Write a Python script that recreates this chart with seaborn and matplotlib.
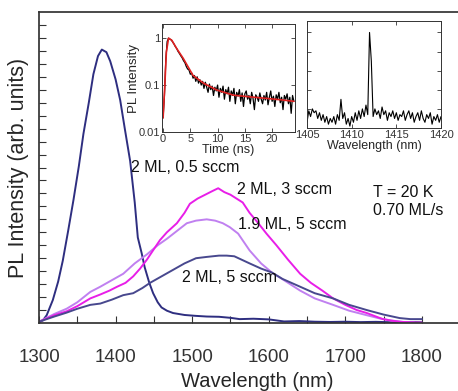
import matplotlib
matplotlib.use("Agg")
import matplotlib.pyplot as plt
import numpy as np
import pandas as pd
import seaborn as sns

# main PL spectra (wavelength in nm, intensity in arb. units)
wl_a = [1300, 1305, 1310, 1318, 1325, 1331, 1338, 1345, 1352, 1358, 1365, 1371, 1377, 1382,
        1388, 1393, 1400, 1406, 1412, 1419, 1425, 1429, 1434, 1438, 1444, 1449, 1455, 1460,
        1467, 1475, 1490, 1505, 1519, 1535, 1550, 1562, 1580, 1600, 1620, 1640, 1660, 1680,
        1700, 1720, 1740, 1760, 1780, 1800]
pl_a = [0.05, 0.2, 0.6, 1.77, 3.2, 4.8, 7.1, 9.5, 12.1, 14.6, 17.0, 19.2, 20.6, 21.1,
        20.9, 20.2, 18.8, 17.2, 15.0, 12.5, 9.3, 6.6, 5.4, 4.3, 3.1, 2.3, 1.6, 1.2,
        0.95, 0.77, 0.62, 0.55, 0.5, 0.48, 0.4, 0.3, 0.33, 0.28, 0.12, 0.15, 0.1, 0.08,
        0.1, 0.07, 0.09, 0.06, 0.08, 0.05]

wl_b = [1300, 1310, 1320, 1336, 1350, 1367, 1380, 1392, 1402, 1413, 1423, 1432, 1441, 1450,
        1458, 1467, 1480, 1490, 1497, 1507, 1517, 1527, 1534, 1542, 1550, 1558, 1566, 1575,
        1585, 1597, 1610, 1625, 1641, 1655, 1670, 1684, 1700, 1715, 1728, 1740, 1749, 1760,
        1771, 1785, 1800]
pl_b = [0.1, 0.35, 0.6, 0.9, 1.3, 1.9, 2.2, 2.5, 2.8, 3.1, 3.6, 4.2, 4.9, 5.7,
        6.4, 7.0, 7.7, 8.5, 9.2, 9.6, 9.9, 10.2, 10.4, 10.1, 9.9, 9.6, 9.3, 8.5,
        7.8, 6.9, 6.0, 4.9, 3.8, 3.1, 2.5, 1.9, 1.4, 1.0, 0.77, 0.5, 0.3, 0.18,
        0.1, 0.05, 0.03]

wl_c = [1300, 1310, 1320, 1336, 1350, 1367, 1380, 1395, 1410, 1425, 1441, 1455, 1467, 1480,
        1493, 1505, 1519, 1530, 1540, 1549, 1560, 1575, 1590, 1604, 1620, 1641, 1660, 1684,
        1705, 1728, 1745, 1760, 1775, 1790]
pl_c = [0.1, 0.4, 0.7, 1.1, 1.6, 2.4, 2.8, 3.3, 3.8, 4.6, 5.3, 6.0, 6.5, 7.1,
        7.7, 7.9, 8.0, 7.9, 7.7, 7.4, 6.9, 5.6, 4.6, 3.9, 3.3, 2.5, 1.9, 1.4,
        0.95, 0.6, 0.35, 0.2, 0.08, 0.03]

wl_d = [1300, 1310, 1320, 1336, 1350, 1367, 1380, 1395, 1410, 1423, 1435, 1445, 1460, 1475,
        1490, 1505, 1519, 1535, 1545, 1555, 1575, 1590, 1604, 1618, 1641, 1660, 1684, 1705,
        1728, 1750, 1771, 1785, 1800]
pl_d = [0.1, 0.3, 0.5, 0.8, 1.1, 1.4, 1.5, 1.8, 2.15, 2.3, 2.7, 3.1, 3.6, 4.1,
        4.6, 5.0, 5.1, 5.2, 5.2, 5.15, 4.6, 4.2, 3.9, 3.4, 2.8, 2.3, 1.9, 1.4,
        1.0, 0.65, 0.38, 0.3, 0.3]

labels = ["2 ML, 0.5 sccm", "2 ML, 3 sccm", "1.9 ML, 5 sccm", "2 ML, 5 sccm"]
colors = ["#2e2e80", "#e81ee8", "#c080f0", "#48488e"]

# inset 1: time-resolved PL
t_data = [i * 0.25 for i in range(97)]
pl_t = [0.02, 0.06, 0.35, 0.85, 1.0, 0.95, 0.92, 0.83, 0.75, 0.66, 0.6, 0.52, 0.47, 0.42,
        0.38, 0.33, 0.3, 0.25, 0.22, 0.21, 0.17, 0.18, 0.14, 0.16, 0.12, 0.15, 0.11, 0.13,
        0.1, 0.12, 0.085, 0.115, 0.09, 0.07, 0.105, 0.08, 0.095, 0.06, 0.09, 0.075, 0.1,
        0.055, 0.085, 0.07, 0.095, 0.05, 0.08, 0.065, 0.09, 0.045, 0.075, 0.06, 0.085,
        0.04, 0.07, 0.058, 0.08, 0.045, 0.068, 0.035, 0.065, 0.075, 0.05, 0.06, 0.04,
        0.07, 0.052, 0.03, 0.062, 0.055, 0.045, 0.068, 0.05, 0.04, 0.06, 0.048, 0.07,
        0.038, 0.055, 0.075, 0.045, 0.058, 0.035, 0.062, 0.05, 0.07, 0.042, 0.055, 0.03,
        0.06, 0.05, 0.065, 0.04, 0.055, 0.025, 0.06, 0.045]
t_fit = [0, 0.3, 0.6, 1.0, 1.6, 2.5, 3.7, 5.5, 7.4, 9.9, 12.9, 16, 19, 22, 24]
pl_fit = [0.02, 0.09, 0.5, 1.0, 0.9, 0.6, 0.37, 0.16, 0.11, 0.078, 0.061, 0.056, 0.052,
          0.048, 0.045]

# inset 2: single-dot spectrum
wl_s = [1405 + i * 0.2 for i in range(76)]
pl_s = [0.3, 0.9, 0.6, 1.0, 0.8, 0.9, 0.5, 0.8, 0.4, 0.7, 0.3, 0.6, 0.2, 0.5, 0.3, 0.6,
        0.2, 0.7, 0.4, 1.5, 0.5, 0.8, 0.2, 0.5, 0.1, 0.6, 0.3, 0.8, 0.4, 0.9, 0.5, 1.0,
        0.6, 1.2, 0.7, 5.0, 3.5, 0.6, 1.0, 0.7, 0.9, 0.5, 1.1, 0.7, 0.9, 0.4, 0.8, 0.6,
        0.9, 0.5, 0.8, 0.4, 0.7, 0.6, 0.9, 0.4, 0.7, 0.9, 0.5, 0.8, 0.3, 0.6, 0.8, 0.4,
        0.9, 0.5, 0.3, 0.7, 0.5, 0.8, 0.2, 0.6, 0.4, 0.7, 0.3, 0.6]

sns.set_theme(style="ticks")
plt.rcParams["font.family"] = ["Liberation Sans", "DejaVu Sans"]
plt.rcParams["axes.edgecolor"] = "#333333"
plt.rcParams["xtick.color"] = "#333333"
plt.rcParams["ytick.color"] = "#333333"
plt.rcParams["text.color"] = "#111111"


def main() -> None:
    fig = plt.figure(figsize=(4.58, 3.91), dpi=100)
    ax = fig.add_axes([0.0852, 0.1739, 0.953, 0.7954])

    series = [(wl_a, pl_a), (wl_b, pl_b), (wl_c, pl_c), (wl_d, pl_d)]
    order = [0, 2, 1, 3]
    for i in order:
        x, y = series[i]
        df = pd.DataFrame({"wl": x, "pl": y})
        sns.lineplot(data=df, x="wl", y="pl", color=colors[i], lw=1.4, ax=ax)

    ax.set_xlim(1300, 1870)
    ax.set_ylim(0, 24)
    ax.set_xticks([1300, 1400, 1500, 1600, 1700, 1800])
    ax.set_xticks([1350, 1450, 1550, 1650, 1750], minor=True)
    ax.set_yticks(range(1, 24))
    ax.set_yticklabels([])
    ax.tick_params(axis="both", which="both", direction="in", length=5, width=0.8)
    ax.tick_params(axis="x", which="major", labelsize=13.5, pad=19)
    ax.spines["right"].set_visible(False)
    ax.set_xlabel("Wavelength (nm)", fontsize=14.5, labelpad=4)
    ax.set_ylabel("PL Intensity (arb. units)", fontsize=15.5, labelpad=4)

    fs = 11.5
    ax.text(1420, 12.0, labels[0], fontsize=fs, va="center")
    ax.text(1558, 10.3, labels[1], fontsize=fs, va="center")
    ax.text(1560, 7.6, labels[2], fontsize=fs, va="center")
    ax.text(1487, 3.5, labels[3], fontsize=fs, va="center")
    ax.text(1736, 10.1, "T = 20 K", fontsize=fs, va="center")
    ax.text(1736, 8.7, "0.70 ML/s", fontsize=fs, va="center")

    # inset: PL decay
    ax1 = fig.add_axes([0.3537, 0.6624, 0.2904, 0.2762])
    sns.lineplot(x=t_data, y=pl_t, color="black", lw=0.9, ax=ax1)
    sns.lineplot(x=t_fit, y=pl_fit, color="#e02020", lw=1.2, ax=ax1)
    ax1.set_yscale("log")
    ax1.set_xlim(-0.2, 24.2)
    ax1.set_ylim(0.01, 2)
    ax1.set_xticks([0, 5, 10, 15, 20])
    ax1.set_yticks([0.01, 0.1, 1])
    ax1.set_yticklabels(["0.01", "0.1", "1"])
    ax1.minorticks_off()
    ax1.tick_params(direction="in", length=3, width=0.6, labelsize=8, pad=1.5,
                    top=True, right=True)
    ax1.set_xlabel("Time (ns)", fontsize=9, labelpad=0)
    ax1.set_ylabel("PL Intensity", fontsize=9.5, labelpad=-1)

    # inset: narrow line spectrum
    ax2 = fig.add_axes([0.6703, 0.6726, 0.2926, 0.2737])
    sns.lineplot(x=wl_s, y=pl_s, color="black", lw=0.8, ax=ax2)
    ax2.set_xlim(1405, 1420)
    ax2.set_ylim(0, 5.6)
    ax2.set_xticks([1405, 1410, 1415, 1420])
    ax2.set_yticks([1, 2, 3, 4, 5])
    ax2.set_yticklabels([])
    ax2.tick_params(direction="in", length=3, width=0.6, labelsize=8, pad=1.5,
                    top=True, right=True)
    ax2.set_xlabel("Wavelength (nm)", fontsize=9, labelpad=0)
    ax2.set_ylabel("")

    for a in (ax1, ax2):
        for s in a.spines.values():
            s.set_linewidth(0.7)

    fig.savefig("out.png", dpi=100)
    plt.close(fig)


if __name__ == "__main__":
    main()
